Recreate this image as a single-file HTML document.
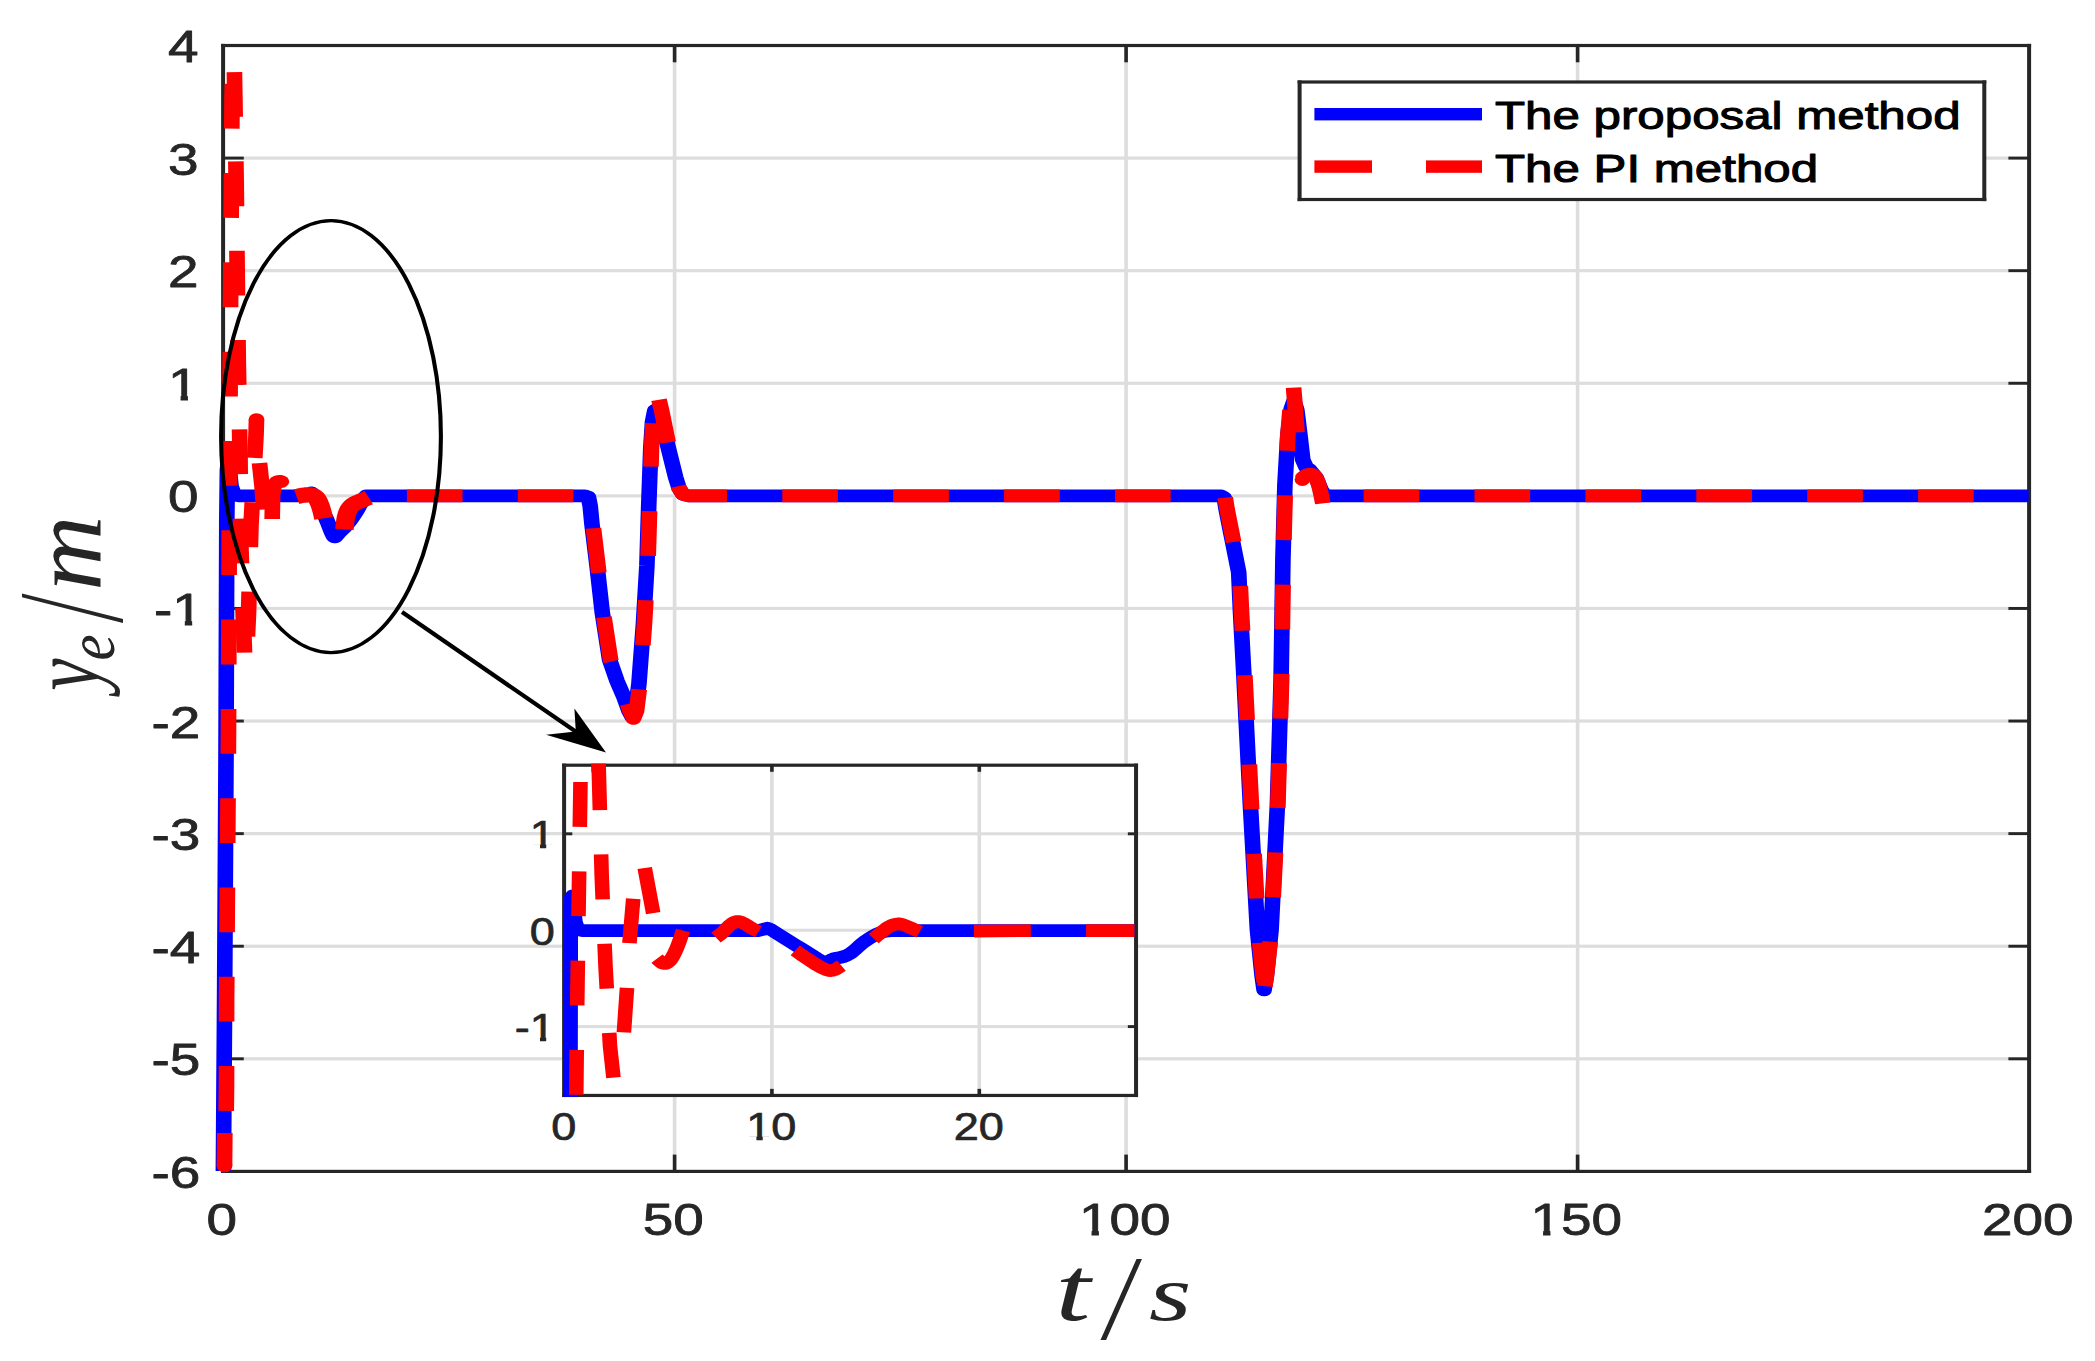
<!DOCTYPE html>
<html lang="en">
<head>
<meta charset="utf-8">
<title>Cross-track error y_e versus time</title>
<style>
html,body{margin:0;padding:0;background:#fff;}
body{width:2095px;height:1361px;overflow:hidden;}
svg{display:block;}
text{white-space:pre;}
</style>
</head>
<body>
<svg width="2095" height="1361" viewBox="0 0 2095 1361">
<rect x="0" y="0" width="2095" height="1361" fill="#ffffff"/>
<g id="main-grid">
<rect x="672.8" y="45.5" width="3.6" height="1125.9" fill="#dddddd"/>
<rect x="1124.3" y="45.5" width="3.6" height="1125.9" fill="#dddddd"/>
<rect x="1575.8" y="45.5" width="3.6" height="1125.9" fill="#dddddd"/>
<rect x="223.1" y="1057.21" width="1806" height="3.2" fill="#dddddd"/>
<rect x="223.1" y="944.62" width="1806" height="3.2" fill="#dddddd"/>
<rect x="223.1" y="832.03" width="1806" height="3.2" fill="#dddddd"/>
<rect x="223.1" y="719.44" width="1806" height="3.2" fill="#dddddd"/>
<rect x="223.1" y="606.85" width="1806" height="3.2" fill="#dddddd"/>
<rect x="223.1" y="494.26" width="1806" height="3.2" fill="#dddddd"/>
<rect x="223.1" y="381.67" width="1806" height="3.2" fill="#dddddd"/>
<rect x="223.1" y="269.08" width="1806" height="3.2" fill="#dddddd"/>
<rect x="223.1" y="156.49" width="1806" height="3.2" fill="#dddddd"/>
</g>
<g id="main-axes">
<rect x="672.8" y="1154.6" width="3.6" height="16.8" fill="#262626"/>
<rect x="672.8" y="45.5" width="3.6" height="16.8" fill="#262626"/>
<rect x="1124.3" y="1154.6" width="3.6" height="16.8" fill="#262626"/>
<rect x="1124.3" y="45.5" width="3.6" height="16.8" fill="#262626"/>
<rect x="1575.8" y="1154.6" width="3.6" height="16.8" fill="#262626"/>
<rect x="1575.8" y="45.5" width="3.6" height="16.8" fill="#262626"/>
<rect x="223.1" y="1057.36" width="20.7" height="2.9" fill="#262626"/>
<rect x="2008.4" y="1057.36" width="20.7" height="2.9" fill="#262626"/>
<rect x="223.1" y="944.77" width="20.7" height="2.9" fill="#262626"/>
<rect x="2008.4" y="944.77" width="20.7" height="2.9" fill="#262626"/>
<rect x="223.1" y="832.18" width="20.7" height="2.9" fill="#262626"/>
<rect x="2008.4" y="832.18" width="20.7" height="2.9" fill="#262626"/>
<rect x="223.1" y="719.59" width="20.7" height="2.9" fill="#262626"/>
<rect x="2008.4" y="719.59" width="20.7" height="2.9" fill="#262626"/>
<rect x="223.1" y="607" width="20.7" height="2.9" fill="#262626"/>
<rect x="2008.4" y="607" width="20.7" height="2.9" fill="#262626"/>
<rect x="223.1" y="494.41" width="20.7" height="2.9" fill="#262626"/>
<rect x="2008.4" y="494.41" width="20.7" height="2.9" fill="#262626"/>
<rect x="223.1" y="381.82" width="20.7" height="2.9" fill="#262626"/>
<rect x="2008.4" y="381.82" width="20.7" height="2.9" fill="#262626"/>
<rect x="223.1" y="269.23" width="20.7" height="2.9" fill="#262626"/>
<rect x="2008.4" y="269.23" width="20.7" height="2.9" fill="#262626"/>
<rect x="223.1" y="156.64" width="20.7" height="2.9" fill="#262626"/>
<rect x="2008.4" y="156.64" width="20.7" height="2.9" fill="#262626"/>
<rect x="221.1" y="43.9" width="4" height="1129.1" fill="#262626"/>
<rect x="2027.1" y="43.9" width="4" height="1129.1" fill="#262626"/>
<rect x="221.1" y="43.9" width="1810" height="3.2" fill="#262626"/>
<rect x="221.1" y="1169.8" width="1810" height="3.2" fill="#262626"/>
</g>
<g id="main-curves" transform="scale(1.242 1)">
<polyline points="179.87,1171 180.84,1000 181.96,760 182.61,520 183.09,470 183.74,463 184.7,470 185.99,486 188.41,494.5 192.03,495.86 247.25,495.86 250.88,492.86 254.52,497.86 256.04,501.71 258.24,507.27 260.58,513.26 262.51,518.38 263.9,522.45 265.04,526.1 266,529.27 266.88,531.89 267.62,533.96 268.21,535.51 268.76,536.52 269.4,536.96 270.09,536.71 270.79,535.83 271.61,534.53 272.69,533.01 274.13,531.28 275.82,529.24 277.63,526.96 279.39,524.5 281.13,521.75 282.91,518.73 284.62,515.67 286.15,512.8 287.44,510.15 288.57,507.61 289.61,505.22 290.66,503 291.83,500.86 293.04,498.82 294.1,497.08 294.85,495.86 471.01,495.86 473.75,497 475.2,506 476.65,524.6 480.68,565.7 484.94,612.7 490.82,659.7 496.78,681 502.66,697.9 506.44,711 509.26,717.5 511.67,711 514.49,683.2 518.04,624.5 520.85,565.7 522.3,506.9 523.99,448.2 525.36,422 527.21,410.5 529.39,409 532.21,418 538.16,448.2 544.04,477.5 546.7,488 549.92,494.5 554.75,495.86 983.09,495.86 985.67,497.5 987.28,509.8 991.3,534.8 997.34,572.2 998.71,609.7 1001.37,672.1 1006.76,804.8 1012.4,929.7 1016.1,975 1017.79,990 1019.73,975 1023.43,929.7 1028.5,804.8 1031.48,680 1032.93,559.8 1034.54,484.8 1036.88,434.9 1039.61,409 1041.87,401 1044.12,410 1046.62,434.9 1048.95,459.9 1051.53,467 1054.59,469.9 1059.58,477.4 1063.61,489.8 1067.07,495.86 1633.33,495.86" fill="none" stroke="#0000ff" stroke-width="12.6" stroke-linecap="butt" stroke-linejoin="round" />
<polyline points="180.76,1166 181,1133" fill="none" stroke="#ff0000" stroke-width="12.6" stroke-linecap="butt" stroke-linejoin="round" />
<circle cx="180.76" cy="1166" r="6.3" fill="#ff0000"/>
<polyline points="181.96,1128 182.37,1088 182.45,1000 183.98,730 184.54,550 185.67,300 186.8,100 187.12,80" fill="none" stroke="#ff0000" stroke-width="12.6" stroke-linejoin="round" stroke-dasharray="44.8 44.5" stroke-dashoffset="72.19"/>
<polyline points="188.73,71.7 189.05,94 190.18,183 190.98,273 191.87,362 193.24,453 193.8,540 196.22,630 196.94,655" fill="none" stroke="#ff0000" stroke-width="12.6" stroke-linejoin="round" stroke-dasharray="44.8 44.5" stroke-dashoffset="88.88"/>
<polyline points="198.71,650 200.08,614 202.09,525 206.12,436 206.52,419.5" fill="none" stroke="#ff0000" stroke-width="12.6" stroke-linejoin="round" stroke-dasharray="44.8 44.5" stroke-dashoffset="75.69"/>
<circle cx="206.52" cy="419.5" r="6.3" fill="#ff0000"/>
<polyline points="208.94,463 210.95,486 212.4,509.5" fill="none" stroke="#ff0000" stroke-width="12.6" stroke-linecap="butt" stroke-linejoin="round" />
<polyline points="219.16,519 219.48,495 220.61,486 222.71,482 225.04,481.2 226.73,481.4" fill="none" stroke="#ff0000" stroke-width="12.6" stroke-linecap="butt" stroke-linejoin="round" />
<circle cx="226.57" cy="481.6" r="6.3" fill="#ff0000"/>
<polyline points="238.81,496.6 240.15,496.2 242.06,495.64 243.96,495.2 245.68,494.93 247.38,494.78 248.95,494.8 250.37,495 251.66,495.38 252.82,496 253.84,496.89 254.73,498.02 255.56,499.4 256.32,501.07 257.01,502.99 257.65,505 258.23,507.09 258.76,509.27 259.26,511.5 259.76,514.03 260.23,516.6 260.55,518.4" fill="none" stroke="#ff0000" stroke-width="15.2" stroke-linecap="butt" stroke-linejoin="round" />
<polyline points="277.29,529.4 277.55,526.33 277.92,522 278.42,518 279.03,514.86 279.77,512.05 280.68,509.6 281.82,507.53 283.14,505.81 284.46,504.4 285.7,503.39 286.94,502.68 288.24,502 289.68,501.25 291.19,500.53 292.67,499.8 294.27,498.99 295.84,498.17 296.94,497.6" fill="none" stroke="#ff0000" stroke-width="14.8" stroke-linecap="butt" stroke-linejoin="round" />
<polyline points="305.96,495.86 471.82,495.86 474.56,497 476.01,506 477.46,524.6 481.48,565.7 485.75,612.7 491.63,659.7 497.58,681 503.46,697.9 507.25,711 510.06,718.5 512.48,711 515.3,683.2 518.84,624.5 521.66,565.7 523.11,506.9 524.56,448.2 525.76,423.2" fill="none" stroke="#ff0000" stroke-width="12.6" stroke-linejoin="round" stroke-dasharray="44.8 44.5" stroke-dashoffset="67.64"/>
<polyline points="530.6,399.7 532.61,410 538.16,443.7 544.04,477.5 546.7,488 549.92,494.5 554.75,495.86 983.9,495.86 986.47,497.5 988.08,509.8 992.11,534.8 998.15,572.2 999.52,609.7 1002.17,672.1 1007.57,804.8 1013.2,929.7 1016.91,975 1018.04,982" fill="none" stroke="#ff0000" stroke-width="12.6" stroke-linejoin="round" stroke-dasharray="44.8 44.5" stroke-dashoffset="1.42"/>
<polyline points="1018.36,987.2 1019.73,975 1023.83,929.7 1028.9,804.8 1031.88,680 1033.33,559.8 1034.94,484.8 1036.96,434.9 1038.65,410" fill="none" stroke="#ff0000" stroke-width="12.6" stroke-linejoin="round" stroke-dasharray="44.8 44.5" stroke-dashoffset="88.31"/>
<polyline points="1041.55,387.6 1042.35,400 1044.28,432.4" fill="none" stroke="#ff0000" stroke-width="12.6" stroke-linecap="butt" stroke-linejoin="round" />
<polyline points="1047.91,479.5 1048.37,478.73 1049.05,477.64 1049.92,476.6 1050.99,475.64 1052.25,474.74 1053.54,474.2 1054.88,474.04 1056.27,474.23 1057.57,475 1058.73,476.43 1059.8,478.44 1060.79,481 1061.67,484.28 1062.47,488.12 1063.2,492 1063.93,496.19 1064.6,500.43 1065.06,503.4" fill="none" stroke="#ff0000" stroke-width="12.6" stroke-linecap="butt" stroke-linejoin="round" />
<circle cx="1048.63" cy="479.6" r="6.3" fill="#ff0000"/>
<polyline points="1078.9,495.86 1632.93,495.86" fill="none" stroke="#ff0000" stroke-width="12.6" stroke-linejoin="round" stroke-dasharray="44.8 44.5" stroke-dashoffset="70.3"/>
</g>
<g transform="scale(1.242 1)"><ellipse cx="266.51" cy="436.6" rx="88.49" ry="216" fill="none" stroke="#000" stroke-width="3.3"/></g>
<line x1="402" y1="612" x2="580" y2="734.5" stroke="#000" stroke-width="4.2"/>
<polygon points="606,752.4 574.4,708.6 575.8,731.6 546,734.8" fill="#000"/>
<g id="inset">
<rect x="564.1" y="765.2" width="571.95" height="330.25" fill="#fff"/>
<rect x="770.1" y="765.2" width="3.6" height="330.25" fill="#dddddd"/>
<rect x="977.5" y="765.2" width="3.6" height="330.25" fill="#dddddd"/>
<rect x="564.1" y="1025.1" width="571.95" height="3" fill="#dddddd"/>
<rect x="564.1" y="928.7" width="571.95" height="3" fill="#dddddd"/>
<rect x="564.1" y="832.3" width="571.95" height="3" fill="#dddddd"/>
<rect x="770.1" y="1088.85" width="3.6" height="6.6" fill="#262626"/>
<rect x="770.1" y="765.2" width="3.6" height="6.6" fill="#262626"/>
<rect x="977.5" y="1088.85" width="3.6" height="6.6" fill="#262626"/>
<rect x="977.5" y="765.2" width="3.6" height="6.6" fill="#262626"/>
<rect x="564.1" y="1025.15" width="8.2" height="2.9" fill="#262626"/>
<rect x="1127.85" y="1025.15" width="8.2" height="2.9" fill="#262626"/>
<rect x="564.1" y="928.75" width="8.2" height="2.9" fill="#262626"/>
<rect x="1127.85" y="928.75" width="8.2" height="2.9" fill="#262626"/>
<rect x="564.1" y="832.35" width="8.2" height="2.9" fill="#262626"/>
<rect x="1127.85" y="832.35" width="8.2" height="2.9" fill="#262626"/>
<rect x="562.1" y="763.6" width="4" height="333.45" fill="#262626"/>
<rect x="1134.05" y="763.6" width="4" height="333.45" fill="#262626"/>
<rect x="562.1" y="763.6" width="575.95" height="3.2" fill="#262626"/>
<rect x="562.1" y="1093.85" width="575.95" height="3.2" fill="#262626"/>
<clipPath id="inclip"><rect x="488.61" y="763.6" width="497.87" height="333.45"/></clipPath>
<g transform="scale(1.15 1)" clip-path="url(#inclip)">
<polyline points="496,1110 496.35,905 496.87,897.5 497.74,896 498.78,903 500.35,922 502.61,929.4 506.09,930.6 659.13,930.6 663.48,929.4 667.13,928.2 670.43,929.6 674.81,932.79 681.03,937.31 686.96,941.6 691.78,945.05 696.31,948.26 700.87,951.5 705.95,955.2 711.06,958.93 715.04,961.6 717.11,962.64 718.06,962.63 719.13,962.2 720.61,961.39 722.22,960.16 724.35,959 727.39,958.17 730.96,957.41 734.26,956.4 736.92,955.05 739.31,953.45 741.74,951.5 744.26,949.04 746.83,946.23 749.57,943.5 752.57,940.92 755.74,938.41 758.96,936.2 762.18,934.3 765.45,932.69 768.7,931.5 772.25,930.89 775.79,930.69 778.26,930.6 989.61,930.6" fill="none" stroke="#0000ff" stroke-width="12.7" stroke-linecap="butt" stroke-linejoin="round" />
<polyline points="501.04,1100 501.91,1005.4 505.04,760" fill="none" stroke="#ff0000" stroke-width="12.7" stroke-linejoin="round" stroke-dasharray="44.8 44.5" stroke-dashoffset="84"/>
<polyline points="520.35,760 520.52,763.7 523.22,875.9 526.52,965.9 530.43,1046 533.83,1081.8" fill="none" stroke="#ff0000" stroke-width="12.7" stroke-linejoin="round" stroke-dasharray="45 44.3" stroke-dashoffset="84.17"/>
<polyline points="520.35,760 520.61,772" fill="none" stroke="#ff0000" stroke-width="12.7" stroke-linecap="butt" stroke-linejoin="round" />
<polyline points="541.57,1050 542.52,1032.3 545.22,988 547.39,942.2 550.7,898 551.74,885" fill="none" stroke="#ff0000" stroke-width="12.7" stroke-linejoin="round" stroke-dasharray="44.5 44.8" stroke-dashoffset="71.57"/>
<polyline points="560.61,868 568,913.1" fill="none" stroke="#ff0000" stroke-width="12.7" stroke-linecap="butt" stroke-linejoin="round" />
<polyline points="571.3,958.6 572.3,959.76 573.74,961.37 575.22,962.6 576.63,963.24 578.1,963.51 579.57,963.2 581.02,962.24 582.47,960.7 583.91,958.6 585.38,955.79 586.83,952.41 588.17,949 589.38,945.64 590.48,942.23 591.48,939 592.44,935.77 593.31,932.72 593.91,930.6" fill="none" stroke="#ff0000" stroke-width="12.7" stroke-linecap="butt" stroke-linejoin="round" />
<polyline points="622.61,937.6 623.95,936.48 625.86,934.85 627.83,933 629.71,930.85 631.64,928.48 633.48,926.4 635.15,924.76 636.73,923.4 638.26,922.4 639.71,921.78 641.11,921.51 642.61,921.6 644.25,922.09 645.99,922.93 647.83,924 649.81,925.36 651.89,926.95 653.91,928.4 656.01,929.67 658.05,930.81 659.48,931.6" fill="none" stroke="#ff0000" stroke-width="12.7" stroke-linecap="butt" stroke-linejoin="round" />
<polyline points="691.48,950.4 693.01,951.65 695.2,953.44 697.39,955.2 699.21,956.65 701.03,958.08 703.3,959.8 706.43,962.15 710.01,964.79 713.3,967 716.08,968.57 718.57,969.71 720.78,970.4 722.59,970.6 724.11,970.34 725.74,969.7 727.86,968.43 730.08,966.79 731.65,965.6" fill="none" stroke="#ff0000" stroke-width="12.7" stroke-linecap="butt" stroke-linejoin="round" />
<polyline points="759.65,938.6 761.04,937.29 763.05,935.4 765.22,933.4 767.45,931.29 769.84,929.07 772.17,927.2 774.41,925.84 776.6,924.84 778.7,924.2 780.56,923.9 782.33,923.96 784.35,924.4 786.81,925.34 789.51,926.66 792.17,928 794.97,929.39 797.73,930.81 799.65,931.8" fill="none" stroke="#ff0000" stroke-width="12.7" stroke-linecap="butt" stroke-linejoin="round" />
<polyline points="846.87,931.2 896.35,930.6" fill="none" stroke="#ff0000" stroke-width="12.7" stroke-linecap="butt" stroke-linejoin="round" />
<polyline points="944.43,930.6 989.61,930.6" fill="none" stroke="#ff0000" stroke-width="12.7" stroke-linecap="butt" stroke-linejoin="round" />
</g>
</g>
<g id="legend">
<rect x="1299.6" y="82" width="684.7" height="117.5" fill="#fff"/>
<rect x="1297.6" y="80.4" width="4" height="120.7" fill="#262626"/>
<rect x="1982.3" y="80.4" width="4" height="120.7" fill="#262626"/>
<rect x="1297.6" y="80.4" width="688.7" height="3.2" fill="#262626"/>
<rect x="1297.6" y="197.9" width="688.7" height="3.2" fill="#262626"/>
<rect x="1314.4" y="108" width="167.6" height="12.4" fill="#0000ff"/>
<rect x="1314.4" y="160.4" width="57.6" height="12.4" fill="#ff0000"/>
<rect x="1426" y="160.4" width="56" height="12.4" fill="#ff0000"/>
<text transform="translate(1495 129.4) scale(1.28 1)" font-family='"Liberation Sans", Arial, Helvetica, sans-serif' font-size="38.5" text-anchor="start" fill="#000"   stroke="#000" stroke-width="1" stroke-linejoin="round">The proposal method</text>
<text transform="translate(1495 182) scale(1.28 1)" font-family='"Liberation Sans", Arial, Helvetica, sans-serif' font-size="38.5" text-anchor="start" fill="#000"   stroke="#000" stroke-width="1" stroke-linejoin="round">The PI method</text>
</g>
<g id="tick-labels">
<text transform="translate(221.8 1235) scale(1.22 1)" font-family='"Liberation Sans", Arial, Helvetica, sans-serif' font-size="45" text-anchor="middle" fill="#262626"   stroke="#262626" stroke-width="0.8" stroke-linejoin="round">0</text>
<text transform="translate(673.3 1235) scale(1.22 1)" font-family='"Liberation Sans", Arial, Helvetica, sans-serif' font-size="45" text-anchor="middle" fill="#262626"   stroke="#262626" stroke-width="0.8" stroke-linejoin="round">50</text>
<clipPath id="tc1"><rect x="-38.53" y="-54" width="27.02" height="49.52"/><rect x="-27.23" y="-9" width="6" height="18"/><rect x="-12.52" y="-54" width="25.04" height="72"/><rect x="12.5" y="-54" width="25.04" height="72"/></clipPath>
<text transform="translate(1124.8 1235) scale(1.22 1)" font-family='"Liberation Sans", Arial, Helvetica, sans-serif' font-size="45" text-anchor="middle" fill="#262626"   stroke="#262626" stroke-width="0.8" stroke-linejoin="round" clip-path="url(#tc1)">100</text>
<clipPath id="tc2"><rect x="-38.53" y="-54" width="27.02" height="49.52"/><rect x="-27.23" y="-9" width="6" height="18"/><rect x="-12.52" y="-54" width="25.04" height="72"/><rect x="12.5" y="-54" width="25.04" height="72"/></clipPath>
<text transform="translate(1576.3 1235) scale(1.22 1)" font-family='"Liberation Sans", Arial, Helvetica, sans-serif' font-size="45" text-anchor="middle" fill="#262626"   stroke="#262626" stroke-width="0.8" stroke-linejoin="round" clip-path="url(#tc2)">150</text>
<text transform="translate(2027.8 1235) scale(1.22 1)" font-family='"Liberation Sans", Arial, Helvetica, sans-serif' font-size="45" text-anchor="middle" fill="#262626"   stroke="#262626" stroke-width="0.8" stroke-linejoin="round">200</text>
<text transform="translate(200.4 1188) scale(1.22 1)" font-family='"Liberation Sans", Arial, Helvetica, sans-serif' font-size="45" text-anchor="end" fill="#262626"   stroke="#262626" stroke-width="0.8" stroke-linejoin="round">-6</text>
<text transform="translate(200.4 1075.41) scale(1.22 1)" font-family='"Liberation Sans", Arial, Helvetica, sans-serif' font-size="45" text-anchor="end" fill="#262626"   stroke="#262626" stroke-width="0.8" stroke-linejoin="round">-5</text>
<text transform="translate(200.4 962.82) scale(1.22 1)" font-family='"Liberation Sans", Arial, Helvetica, sans-serif' font-size="45" text-anchor="end" fill="#262626"   stroke="#262626" stroke-width="0.8" stroke-linejoin="round">-4</text>
<text transform="translate(200.4 850.23) scale(1.22 1)" font-family='"Liberation Sans", Arial, Helvetica, sans-serif' font-size="45" text-anchor="end" fill="#262626"   stroke="#262626" stroke-width="0.8" stroke-linejoin="round">-3</text>
<text transform="translate(200.4 737.64) scale(1.22 1)" font-family='"Liberation Sans", Arial, Helvetica, sans-serif' font-size="45" text-anchor="end" fill="#262626"   stroke="#262626" stroke-width="0.8" stroke-linejoin="round">-2</text>
<clipPath id="tc3"><rect x="-40.02" y="-54" width="15.01" height="72"/><rect x="-26.02" y="-54" width="27.02" height="49.52"/><rect x="-14.73" y="-9" width="6" height="18"/></clipPath>
<text transform="translate(202.8 625.05) scale(1.22 1)" font-family='"Liberation Sans", Arial, Helvetica, sans-serif' font-size="45" text-anchor="end" fill="#262626"   stroke="#262626" stroke-width="0.8" stroke-linejoin="round" clip-path="url(#tc3)">-1</text>
<text transform="translate(198.6 512.46) scale(1.22 1)" font-family='"Liberation Sans", Arial, Helvetica, sans-serif' font-size="45" text-anchor="end" fill="#262626"   stroke="#262626" stroke-width="0.8" stroke-linejoin="round">0</text>
<clipPath id="tc4"><rect x="-26.02" y="-54" width="27.02" height="49.52"/><rect x="-14.73" y="-9" width="6" height="18"/></clipPath>
<text transform="translate(198.6 399.87) scale(1.22 1)" font-family='"Liberation Sans", Arial, Helvetica, sans-serif' font-size="45" text-anchor="end" fill="#262626"   stroke="#262626" stroke-width="0.8" stroke-linejoin="round" clip-path="url(#tc4)">1</text>
<text transform="translate(198.6 287.28) scale(1.22 1)" font-family='"Liberation Sans", Arial, Helvetica, sans-serif' font-size="45" text-anchor="end" fill="#262626"   stroke="#262626" stroke-width="0.8" stroke-linejoin="round">2</text>
<text transform="translate(198.6 174.69) scale(1.22 1)" font-family='"Liberation Sans", Arial, Helvetica, sans-serif' font-size="45" text-anchor="end" fill="#262626"   stroke="#262626" stroke-width="0.8" stroke-linejoin="round">3</text>
<text transform="translate(198.6 62.1) scale(1.22 1)" font-family='"Liberation Sans", Arial, Helvetica, sans-serif' font-size="45" text-anchor="end" fill="#262626"   stroke="#262626" stroke-width="0.8" stroke-linejoin="round">4</text>
<text transform="translate(563.9 1140.4) scale(1.17 1)" font-family='"Liberation Sans", Arial, Helvetica, sans-serif' font-size="38.5" text-anchor="middle" fill="#262626"   stroke="#262626" stroke-width="0.7" stroke-linejoin="round">0</text>
<clipPath id="tc5"><rect x="-22.41" y="-46.2" width="23.41" height="42.26"/><rect x="-12.69" y="-7.7" width="5.33" height="15.4"/><rect x="-0.01" y="-46.2" width="21.43" height="61.6"/></clipPath>
<text transform="translate(771.3 1140.4) scale(1.17 1)" font-family='"Liberation Sans", Arial, Helvetica, sans-serif' font-size="38.5" text-anchor="middle" fill="#262626"   stroke="#262626" stroke-width="0.7" stroke-linejoin="round" clip-path="url(#tc5)">10</text>
<text transform="translate(978.7 1140.4) scale(1.17 1)" font-family='"Liberation Sans", Arial, Helvetica, sans-serif' font-size="38.5" text-anchor="middle" fill="#262626"   stroke="#262626" stroke-width="0.7" stroke-linejoin="round">20</text>
<clipPath id="tc6"><rect x="-34.24" y="-46.2" width="12.84" height="61.6"/><rect x="-22.41" y="-46.2" width="23.41" height="42.26"/><rect x="-12.69" y="-7.7" width="5.33" height="15.4"/></clipPath>
<text transform="translate(554.8 1040.9) scale(1.17 1)" font-family='"Liberation Sans", Arial, Helvetica, sans-serif' font-size="38.5" text-anchor="end" fill="#262626"   stroke="#262626" stroke-width="0.7" stroke-linejoin="round" clip-path="url(#tc6)">-1</text>
<text transform="translate(554.8 944.5) scale(1.17 1)" font-family='"Liberation Sans", Arial, Helvetica, sans-serif' font-size="38.5" text-anchor="end" fill="#262626"   stroke="#262626" stroke-width="0.7" stroke-linejoin="round">0</text>
<clipPath id="tc7"><rect x="-22.41" y="-46.2" width="23.41" height="42.26"/><rect x="-12.69" y="-7.7" width="5.33" height="15.4"/></clipPath>
<text transform="translate(554.8 848.1) scale(1.17 1)" font-family='"Liberation Sans", Arial, Helvetica, sans-serif' font-size="38.5" text-anchor="end" fill="#262626"   stroke="#262626" stroke-width="0.7" stroke-linejoin="round" clip-path="url(#tc7)">1</text>
</g>
<g id="axis-labels" font-family='"Liberation Serif", "Times New Roman", serif' font-style="italic" fill="#262626">
<text><tspan x="1055.2" y="1320.1" font-size="92" textLength="35.25" lengthAdjust="spacingAndGlyphs">t</tspan><tspan x="1105.3" y="1338.8" font-size="121" textLength="28.83" lengthAdjust="spacingAndGlyphs">/</tspan><tspan x="1148.9" y="1320.2" font-size="79" textLength="42.36" lengthAdjust="spacingAndGlyphs">s</tspan></text>
<text transform="translate(100.3 690.8) rotate(-90)"><tspan x="0" y="-1.1" font-size="98.5" textLength="32.19" lengthAdjust="spacingAndGlyphs">y</tspan><tspan x="30.4" y="13.6" font-size="67.8" textLength="26.06" lengthAdjust="spacingAndGlyphs">e</tspan><tspan x="71.2" y="21.2" font-size="149.5" textLength="20.43" lengthAdjust="spacingAndGlyphs">/</tspan><tspan x="100.1" y="0" font-size="99.4" textLength="75.09" lengthAdjust="spacingAndGlyphs">m</tspan></text>
</g>
</svg>
</body>
</html>
